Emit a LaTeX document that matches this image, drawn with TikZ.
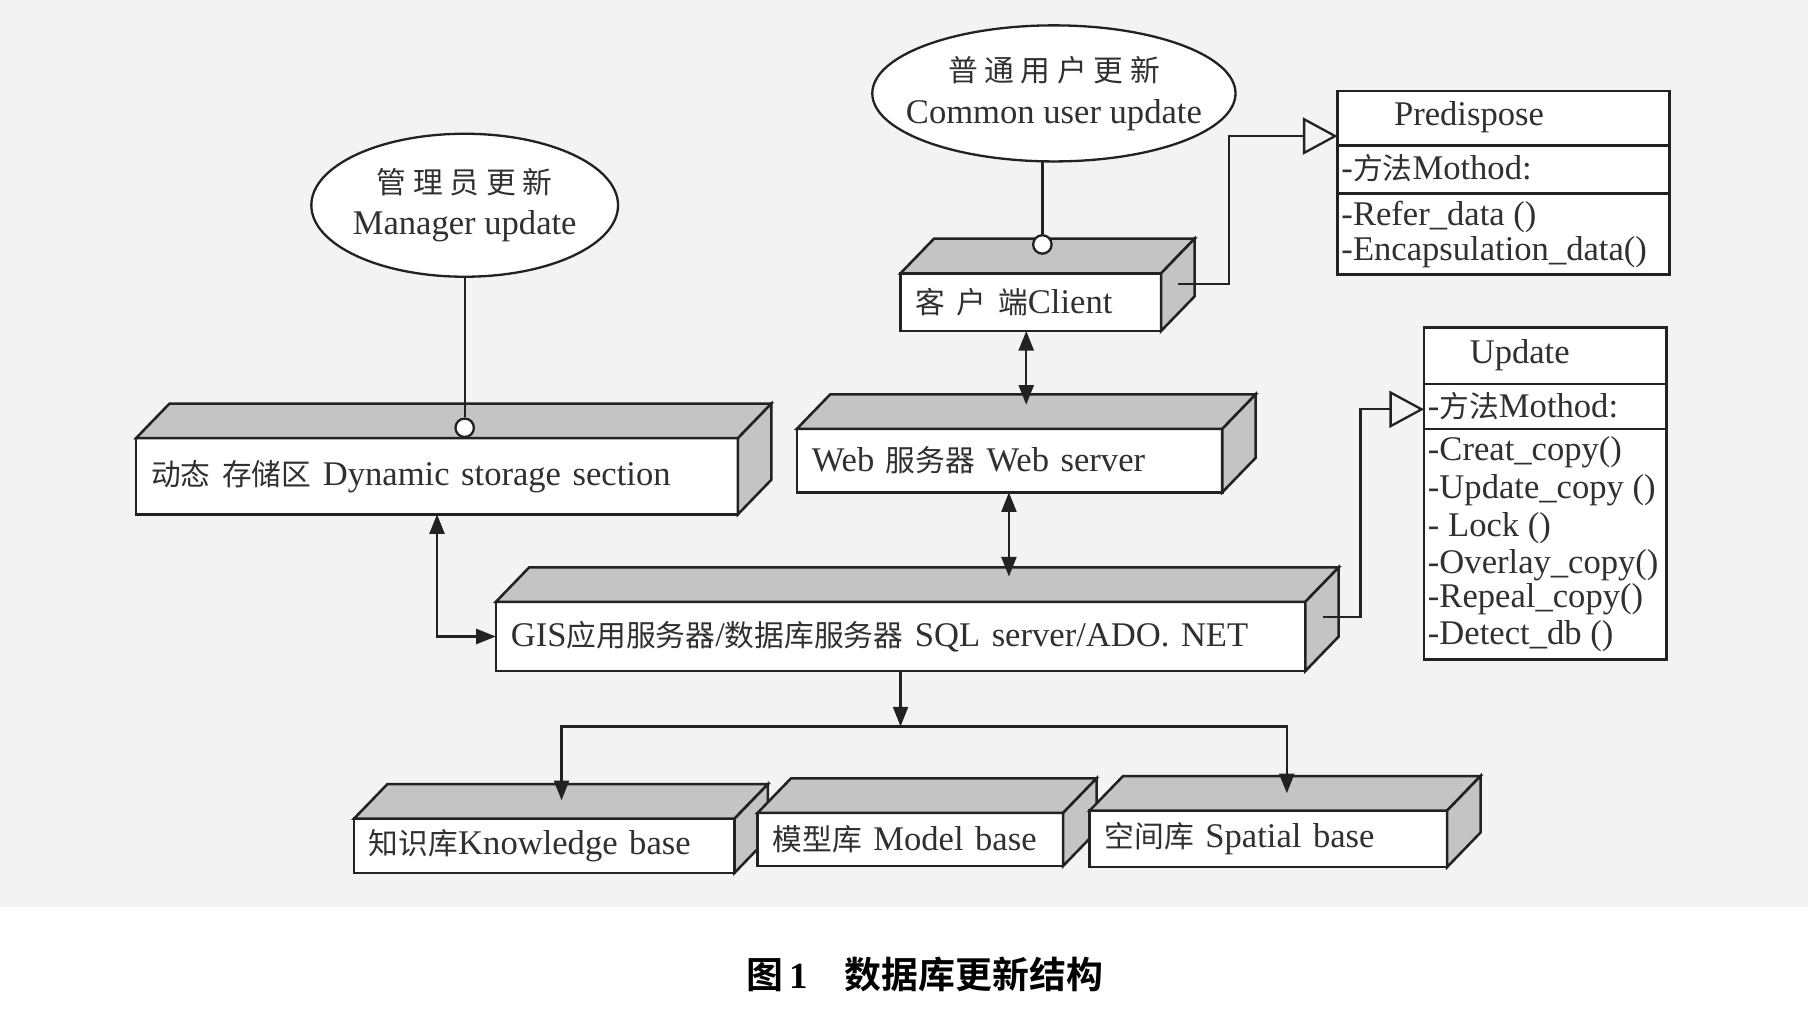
\documentclass[tikz,border=0pt]{standalone}
\usepackage{fontspec}
\setmainfont{Liberation Serif}
\newfontfamily\cjk{Noto Sans CJK SC}[Scale=0.86]
\newfontfamily\cjkbold{Noto Sans CJK SC Bold}
\usetikzlibrary{arrows.meta,calc,shapes.geometric}
\definecolor{bg}{HTML}{F3F3F3}
\definecolor{boxgray}{HTML}{C4C4C4}
\definecolor{ink}{HTML}{222222}
\definecolor{txt}{HTML}{303030}
\tikzset{
  boxline/.style={draw=ink, line width=1.1pt, line join=miter},
  solidfront/.style={boxline, fill=white, rectangle, outer sep=0pt, inner xsep=6.5pt, inner ysep=0pt, align=left, text=txt, font=\fontsize{15}{17}\selectfont},
  conn/.style={draw=ink, line width=1pt},
  tip/.style={-{Triangle[length=8.5pt,width=6.5pt]}},
  dtip/.style={{Triangle[length=8.5pt,width=6.5pt]}-{Triangle[length=8.5pt,width=6.5pt]}},
  inherit/.style={-{Triangle[open,length=15pt,width=16pt,line width=1pt]}},
  oval/.style={draw=ink, line width=1pt, ellipse, fill=white, inner xsep=-14pt, inner ysep=-6pt, outer sep=0pt, align=center, text=txt, font=\fontsize{15}{18}\selectfont},
  port/.style={circle, draw=ink, line width=1pt, fill=white, minimum size=8pt, inner sep=0pt},
  classbox/.style={draw=ink, line width=1.2pt, rectangle, outer sep=0pt, fill=white, inner sep=0pt},
  member/.style={anchor=west, inner sep=0pt, text=txt, font=\fontsize{15}{17}\selectfont},
}
\newcommand\solidbox[6]{%
  \node[solidfront, minimum width={(#4-#2)*0.5pt}, minimum height={(#5-#3)*0.5pt}, text width={(#4-#2)*0.5pt-13pt}] (#1) at ({(#2+#4)/2},{(#3+#5)/2}) {#6};
  \draw[boxline, fill=boxgray] (#1.north west) -- ++(29,-30) -- ++({#4-#2},0) -- (#1.north east) -- cycle;
  \draw[boxline, fill=boxgray] (#1.north east) -- ++(29,-30) -- ++(0,{#5-#3}) -- (#1.south east) -- cycle;
}
\begin{document}
\begin{tikzpicture}[x=0.5pt,y=-0.5pt]
\useasboundingbox (0,0) rectangle (1568,888);
\fill[bg] (0,0) rectangle (1568,787);

% ellipses
\node[oval, minimum width=133pt, minimum height=62pt] (mgr) at (403,178) {{\cjk 管 理 员 更 新}\\Manager update};
\node[oval, minimum width=157.5pt, minimum height=59pt] (cu) at (914,81) {{\cjk 普 通 用 户 更 新}\\Common user update};

% 3D boxes
\solidbox{dyn}{118}{380}{640}{446}{{\cjk 动态 存储区} Dynamic storage section}
\solidbox{cl}{781}{237}{1007}{287}{{\cjk 客 户 端}Client}
\solidbox{web}{691}{372}{1060}{427}{Web {\cjk 服务器} Web server}
\solidbox{gis}{430}{522}{1132}{582}{GIS{\cjk 应用服务器}/{\cjk 数据库服务器} SQL server/ADO. NET}
\solidbox{kb}{307}{710}{637}{757}{{\cjk 知识库}Knowledge base}
\solidbox{mb}{657}{705}{922}{751}{{\cjk 模型库} Model base}
\solidbox{sb}{945}{703}{1255}{752}{{\cjk 空间库} Spatial base}

% ports
\node[port] (p1) at (403,371) {};
\node[port] (p2) at (904,212) {};
\draw[conn] (mgr.south) -- (p1.north);
\draw[conn] (p2.north |- cu.south) -- (p2.north);

% class boxes
\node[classbox, minimum width=144pt, minimum height=79.5pt] (pred) at (1304,158.5) {};
\draw[boxline] (1160,126) -- (1448,126);
\draw[boxline] (1160,168) -- (1448,168);
\node[member, anchor=center] (predt) at (1274,102) {Predispose};
\node[member] (predm) at (1163,146) {-{\cjk 方法}Mothod:};
\node[member] (pred1) at (1163,188) {-Refer\_data ()};
\node[member] (pred2) at (1163,219) {-Encapsulation\_data()};

\node[classbox, minimum width=105pt, minimum height=144pt] (upd) at (1340,428) {};
\draw[boxline] (1235,333) -- (1445,333);
\draw[boxline] (1235,372) -- (1445,372);
\node[member, anchor=center] (updt) at (1318,308) {Update};
\node[member] (updm) at (1238,352) {-{\cjk 方法}Mothod:};
\node[member] (u1) at (1238,392) {-Creat\_copy()};
\node[member] (u2) at (1238,425) {-Update\_copy ()};
\node[member] (u3) at (1238,458) {- Lock ()};
\node[member] (u4) at (1238,490) {-Overlay\_copy()};
\node[member] (u5) at (1238,520) {-Repeal\_copy()};
\node[member] (u6) at (1238,552) {-Detect\_db ()};

% inheritance connectors
\coordinate (clport) at (1022,246);
\coordinate (predin) at (1160,118);
\draw[conn, inherit] (clport) -- (1066,246) |- (predin);
\coordinate (gisport) at (1147,535);
\coordinate (updin) at (1235,355);
\draw[conn, inherit] (gisport) -- (1180,535) |- (updin);

% double arrows
\coordinate (webtop) at (890,351);
\draw[conn, dtip] (cl.south -| webtop) -- (webtop);
\coordinate (gistop) at (875,500);
\draw[conn, dtip] (web.south -| gistop) -- (gistop);
\draw[conn, dtip] (dyn.south) |- (gis.west);

% distribution
\coordinate (split) at (781,630);
\draw[conn, tip] (gis.south) -- (split);
\coordinate (kbtop) at (487,694);
\coordinate (sbtop) at (1116,688);
\draw[conn, tip] (split) -| (kbtop);
\draw[conn, tip] (split) -| (sbtop);

% caption
\node[font=\fontsize{16}{18}\selectfont, text=black] (cap) at (802,845) {{\cjkbold 图}\,\textbf{1}\quad{\cjkbold 数据库更新结构}};
\end{tikzpicture}
\end{document}
